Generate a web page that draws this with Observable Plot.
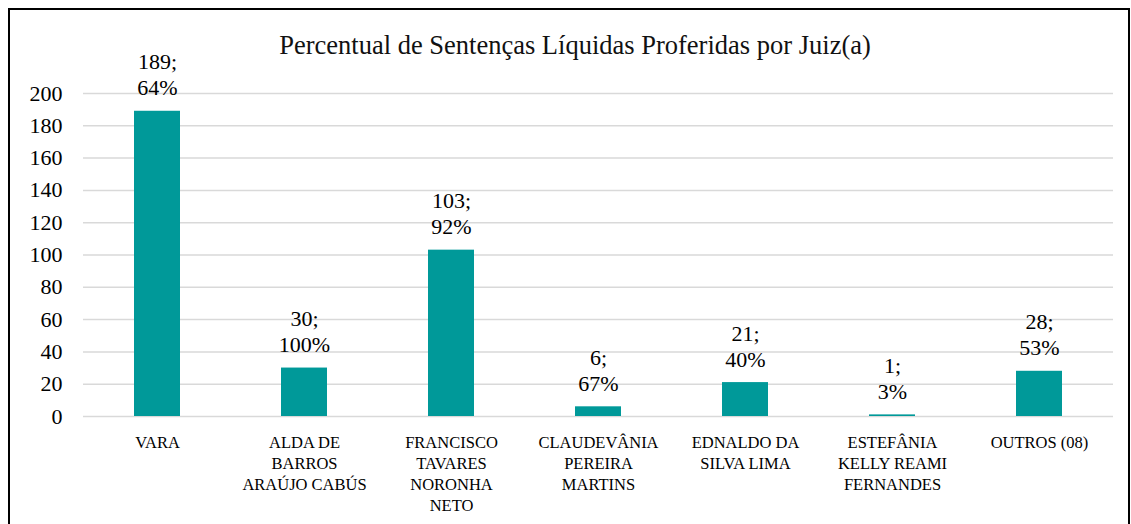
<!DOCTYPE html>
<html><head><meta charset="utf-8">
<script src="https://cdn.jsdelivr.net/npm/d3@7"></script>
<script src="https://cdn.jsdelivr.net/npm/@observablehq/plot@0.6"></script>
<style>
body{margin:0;background:#fff;font-family:'Liberation Serif','Tinos','Times New Roman','DejaVu Serif',serif;}
#wrap{position:relative;width:1131px;height:524px;overflow:hidden;}
#frame{position:absolute;left:8px;top:8px;width:1122px;height:600px;border:2px solid #000;box-sizing:border-box;}
#title{position:absolute;left:0;width:1150px;top:30px;text-align:center;font-size:26.5px;color:#111;}
#chart{position:absolute;left:0;top:0;}
#chart svg text{font-family:'Liberation Serif','Tinos','Times New Roman','DejaVu Serif',serif;}
</style></head>
<body><div id="wrap"><div id="frame"></div><div id="chart"></div><div id="title">Percentual de Sentenças Líquidas Proferidas por Juiz(a)</div></div>
<script>
const categories = ["VARA","ALDA DE BARROS ARAÚJO CABÚS","FRANCISCO TAVARES NORONHA NETO","CLAUDEVÂNIA PEREIRA MARTINS","EDNALDO DA SILVA LIMA","ESTEFÂNIA KELLY REAMI FERNANDES","OUTROS (08)"];
const tickLabels = ["VARA","ALDA DE\nBARROS\nARAÚJO CABÚS","FRANCISCO\nTAVARES\nNORONHA\nNETO","CLAUDEVÂNIA\nPEREIRA\nMARTINS","EDNALDO DA\nSILVA LIMA","ESTEFÂNIA\nKELLY REAMI\nFERNANDES","OUTROS (08)"];
const counts = [189,30,103,6,21,1,28];
const percents = ["64%","100%","92%","67%","40%","3%","53%"];
const yTicks = [0,20,40,60,80,100,120,140,160,180,200];

const data = categories.map((c,i)=>({cat:c, value:counts[i], label:`${counts[i]};\n${percents[i]}`}));
const labelOf = new Map(categories.map((c,i)=>[c,tickLabels[i]]));

const chart = Plot.plot({
  width:1131, height:524,
  marginLeft:83, marginRight:18, marginTop:93, marginBottom:108,
  style:{fontFamily:"'Liberation Serif','Tinos','Times New Roman','DejaVu Serif',serif", background:"transparent", color:"#000"},
  x:{domain:categories, paddingInner:0.69, paddingOuter:0.345, axis:null, label:null},
  y:{domain:[0,200], axis:null, label:null},
  marks:[
    Plot.gridY(yTicks,{stroke:"#d9d9d9", strokeOpacity:1, strokeWidth:1.5}),
    Plot.axisY(yTicks,{tickSize:0, tickPadding:21, fontSize:22, tickFormat:d=>d, textAnchor:"end", label:null}),
    Plot.barY(data,{x:"cat", y:"value", fill:"#009999"}),
    Plot.text(data,{x:"cat", y:"value", text:"label", dy:-16, lineAnchor:"bottom", fontSize:22, lineHeight:1.18, fill:"#000"}),
    Plot.axisX({tickSize:0, tickPadding:16, fontSize:16.5, lineHeight:1.28, tickFormat:d=>labelOf.get(d), lineAnchor:"top", label:null})
  ]
});
document.getElementById("chart").appendChild(chart);
</script></body></html>
